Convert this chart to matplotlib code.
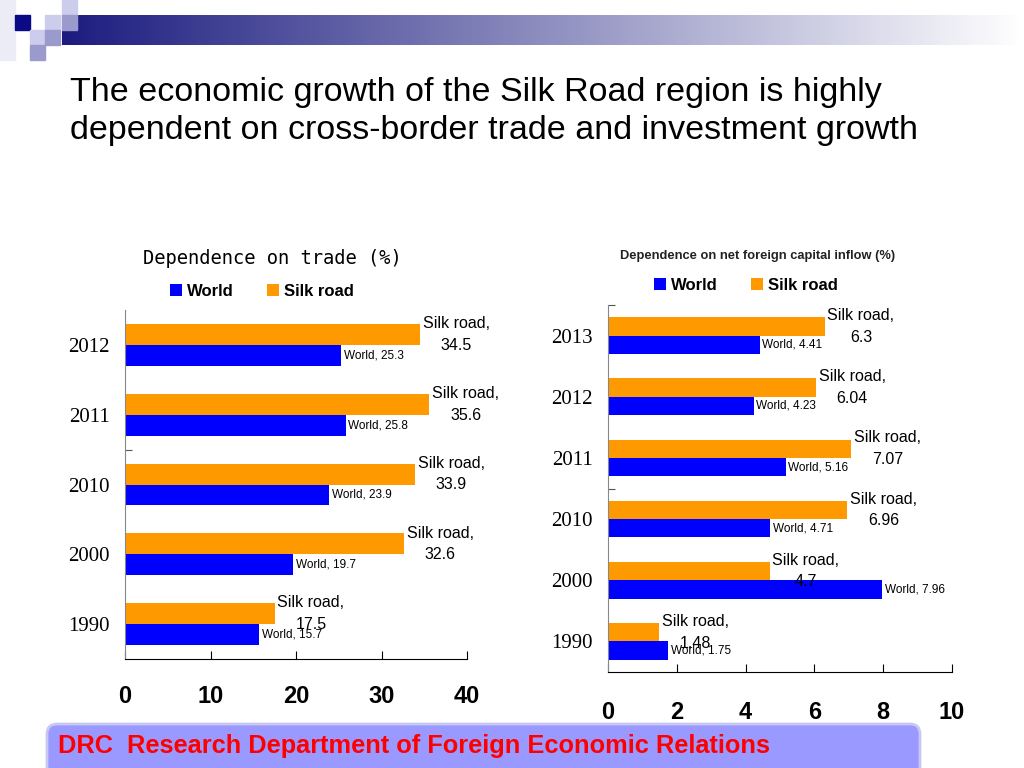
import numpy as np
import matplotlib
matplotlib.use('Agg')
import matplotlib.pyplot as plt
from matplotlib.patches import Rectangle, FancyBboxPatch

# trade dependence (%)
trade_years = ['2012', '2011', '2010', '2000', '1990']
trade_world = [25.3, 25.8, 23.9, 19.7, 15.7]
trade_silk = [34.5, 35.6, 33.9, 32.6, 17.5]
trade_ticks = [0, 10, 20, 30, 40]

# net foreign capital inflow dependence (%)
cap_years = ['2013', '2012', '2011', '2010', '2000', '1990']
cap_world = [4.41, 4.23, 5.16, 4.71, 7.96, 1.75]
cap_silk = [6.3, 6.04, 7.07, 6.96, 4.7, 1.48]
cap_ticks = [0, 2, 4, 6, 8, 10]

BLUE = '#0000FF'
ORANGE = '#FF9900'
SANS = 'Liberation Sans'

W, H = 1024, 768
fig = plt.figure(figsize=(W / 100, H / 100), dpi=100)

# slide background / decorations
bg = fig.add_axes([0, 0, 1, 1], zorder=-1)
bg.set_xlim(0, W)
bg.set_ylim(H, 0)
bg.axis('off')

g = np.linspace(0, 1, 256)[None, :, None]
c0 = np.array([0.11, 0.11, 0.50])
c1 = np.array([1.0, 1.0, 1.0])
bg.imshow(c0 + (c1 - c0) * g, extent=(62, W, 45, 15), aspect='auto', zorder=0)
bg.add_patch(Rectangle((0, 0), 15, 60, color='#ececf6', zorder=0))
for (x, y, c) in [(15, 15, '#0a0a84'), (62, 0, '#ccccec'), (45, 15, '#ccccec'),
                  (62, 15, '#9a9acc'), (30, 30, '#ccccec'), (45, 30, '#9a9acc'),
                  (30, 45, '#9a9acc')]:
    bg.add_patch(Rectangle((x, y), 15, 15, color=c, zorder=1))

bg.text(70, 92, 'The economic growth of the Silk Road region is highly',
        fontsize=24.5, family=SANS, va='center', ha='left')
bg.text(70, 131, 'dependent on cross-border trade and investment growth',
        fontsize=24.5, family=SANS, va='center', ha='left')

bg.add_patch(FancyBboxPatch((47, 724), 873, 60, boxstyle='round,pad=0,rounding_size=10',
                            facecolor='#9999ff', edgecolor='#c8c8f0', linewidth=2, zorder=1))
bg.text(58, 746, 'DRC  Research Department of Foreign Economic Relations',
        fontsize=18.3, fontweight='bold', color='#ff0000', family=SANS,
        va='center', ha='left', zorder=2)


def px_axes(x0, y0, x1, y1):
    return fig.add_axes([x0 / W, 1 - y1 / H, (x1 - x0) / W, (y1 - y0) / H])


def draw(ax, years, world, silk, ticks, pad, minor):
    n = len(years)
    y = np.arange(n)
    bw = 0.3
    b1 = ax.barh(y + bw / 2, world, height=bw, color=BLUE, label='World')
    b2 = ax.barh(y - bw / 2, silk, height=bw, color=ORANGE, label='Silk road')
    ax.set_ylim(n - 0.5, -0.5)
    ax.set_xlim(ticks[0], ticks[-1])
    ax.set_xticks(ticks)
    ax.set_xticklabels([str(t) for t in ticks], fontsize=17, fontweight='bold', family=SANS)
    ax.tick_params(axis='x', direction='in', length=6, pad=pad, width=0.8)
    ax.set_yticks(y)
    ax.set_yticklabels(years, fontsize=15, family='Liberation Serif')
    ax.tick_params(axis='y', length=0, pad=11)
    ax.set_yticks(minor, minor=True)
    ax.tick_params(axis='y', which='minor', direction='in', length=5, width=0.8, color='#555555')
    for s in ['top', 'right']:
        ax.spines[s].set_visible(False)
    ax.spines['left'].set_color('#888888')
    for i in range(n):
        ax.annotate(f'Silk road,\n{silk[i]}', (silk[i], y[i] - bw / 2), xytext=(2, 0),
                    textcoords='offset points', ha='left', va='center', multialignment='center',
                    fontsize=11.5, family=SANS, linespacing=1.55)
        ax.annotate(f'World, {world[i]}', (world[i], y[i] + bw / 2), xytext=(2, 0),
                    textcoords='offset points', ha='left', va='center',
                    fontsize=8.5, family=SANS)
    return b1, b2


leg_kw = dict(loc='center', ncol=2, frameon=False, handlelength=0.7, handleheight=0.7,
              handletextpad=0.3, columnspacing=2.0,
              prop={'family': SANS, 'weight': 'bold', 'size': 12})

ax1 = px_axes(125, 310, 467, 659)
h1 = draw(ax1, trade_years, trade_world, trade_silk, trade_ticks, 19, [1.5])
bg.text(272, 259, 'Dependence on trade (%)', fontsize=13.5, family='DejaVu Sans Mono',
        ha='center', va='center')
fig.legend(h1, ['World', 'Silk road'], bbox_to_anchor=(262 / W, 1 - 291 / H), **leg_kw)

ax2 = px_axes(608, 305, 952, 672)
h2 = draw(ax2, cap_years, cap_world, cap_silk, cap_ticks, 21, [-0.5, 2.5])
bg.text(758, 256, 'Dependence on net foreign capital inflow (%)', fontsize=9.3,
        fontweight='bold', family=SANS, ha='center', va='center', color='#222222')
fig.legend(h2, ['World', 'Silk road'], bbox_to_anchor=(746 / W, 1 - 285 / H), **leg_kw)

fig.savefig('out.png', dpi=100)
